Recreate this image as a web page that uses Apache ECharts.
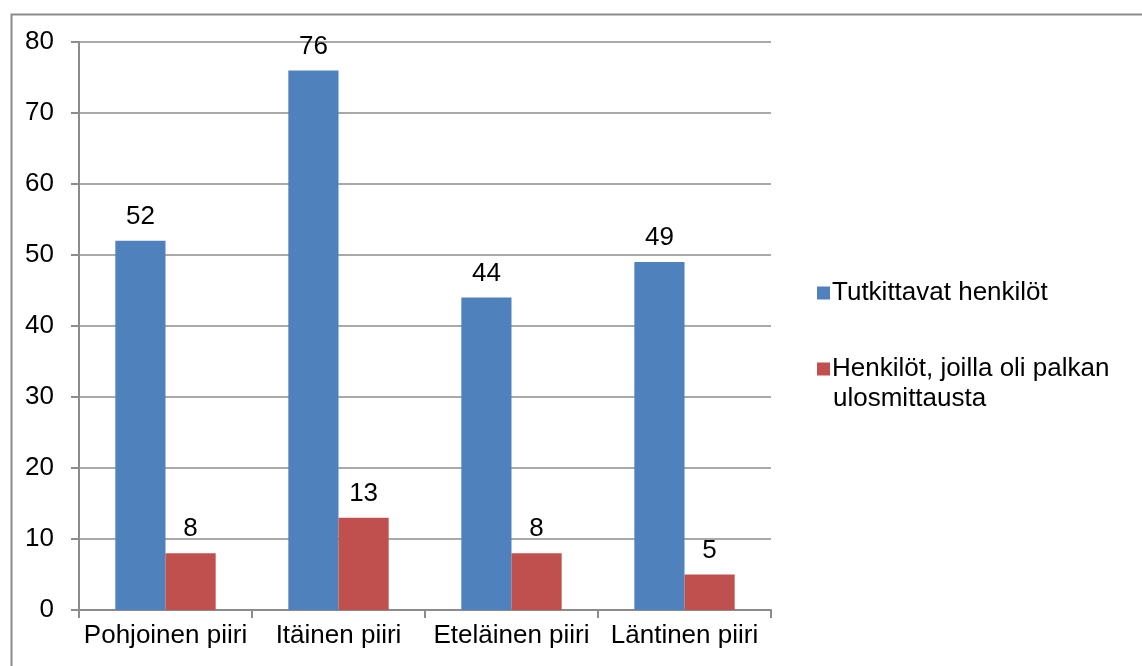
<!DOCTYPE html>
<html>
<head>
<meta charset="utf-8">
<script src="https://cdn.jsdelivr.net/npm/echarts@6/dist/echarts.min.js"></script>
<style>
  html, body { margin: 0; padding: 0; background: #fff; }
  #chart { width: 1142px; height: 666px; }
</style>
</head>
<body>
<div id="chart"></div>
<script>
var categories = ['Pohjoinen piiri', 'Itäinen piiri', 'Eteläinen piiri', 'Läntinen piiri'];
var seriesNames = ['Tutkittavat henkilöt', 'Henkilöt, joilla oli palkan ulosmittausta'];
var tutkittavat = [52, 76, 44, 49];
var ulosmittaus = [8, 13, 8, 5];

var myChart = echarts.init(document.getElementById('chart'));
var font = '"Liberation Sans", Arial, sans-serif';
var fs = 26;
var option = {
    animation: false,
    textStyle: { fontFamily: font },
    graphic: [
        {
            type: 'rect',
            left: 9, top: 12,
            shape: { width: 1200, height: 700 },
            style: { fill: 'none', stroke: '#8c8c8c', lineWidth: 2 }
        },
        {
            // second line of the wrapped legend entry
            type: 'text',
            left: 833, top: 386,
            style: { text: 'ulosmittausta', fill: '#000', font: fs + 'px ' + font }
        }
    ],
    grid: { left: 79, right: 371, top: 42, bottom: 56 },
    legend: {
        orient: 'vertical',
        left: 812,
        top: 275,
        itemWidth: 13,
        itemHeight: 13,
        itemGap: 50,
        icon: 'rect',
        data: seriesNames,
        formatter: function (name) {
            return name === seriesNames[1] ? 'Henkilöt, joilla oli palkan' : name;
        },
        textStyle: { fontSize: fs, color: '#000', fontFamily: font, padding: [0, 0, 0, -3] }
    },
    xAxis: {
        type: 'category',
        data: categories,
        axisLine: { lineStyle: { color: '#8c8c8c', width: 2 } },
        axisTick: { show: true, length: 8, lineStyle: { color: '#8c8c8c', width: 2 } },
        axisLabel: { color: '#000', fontSize: fs, margin: 13, interval: 0, hideOverlap: false, fontFamily: font }
    },
    yAxis: {
        type: 'value',
        min: 0, max: 80, interval: 10,
        axisLine: { show: true, lineStyle: { color: '#8c8c8c', width: 2 } },
        axisTick: { show: true, length: 8, lineStyle: { color: '#8c8c8c', width: 2 } },
        axisLabel: { color: '#000', fontSize: fs, margin: 25, fontFamily: font },
        splitLine: { lineStyle: { color: '#8c8c8c', width: 1.5 } }
    },
    series: [
        {
            name: seriesNames[0],
            type: 'bar',
            data: tutkittavat,
            barGap: '0%',
            barCategoryGap: '42%',
            itemStyle: { color: '#4F81BD' },
            label: { show: true, position: 'top', distance: 11, color: '#000', fontSize: fs, fontFamily: font }
        },
        {
            name: seriesNames[1],
            type: 'bar',
            data: ulosmittaus,
            barGap: '0%',
            barCategoryGap: '42%',
            itemStyle: { color: '#C0504D' },
            label: { show: true, position: 'top', distance: 11, color: '#000', fontSize: fs, fontFamily: font }
        }
    ]
};
myChart.setOption(option);
</script>
</body>
</html>
